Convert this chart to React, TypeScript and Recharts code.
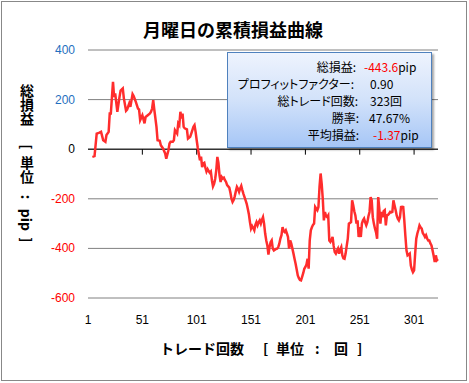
import React from 'react';
import { LineChart, Line, XAxis, YAxis, CartesianGrid, ReferenceLine } from 'recharts';

const trades: number[] = [
  5, 7, 9, 11, 13, 15, 17, 18, 20, 21, 22, 24, 25, 26, 28, 30, 31, 33, 34, 36, 37, 39, 40, 42, 43, 45, 47, 48, 49, 51, 53, 54, 56, 58, 59, 60, 61, 62, 64, 65, 67, 68, 70, 72, 73, 75, 76, 77, 79, 80, 81, 83, 84, 85, 86, 87, 88, 89, 90, 92, 93, 95, 96, 98, 99,
  100, 101, 102, 103, 104, 105, 106, 107, 108, 109, 110, 111, 112, 113, 114, 115, 116, 117, 118, 119, 120, 121, 122, 123, 124, 125, 126, 127, 128, 129, 130, 131, 132, 133, 134, 135, 136, 137, 138, 139, 140, 141, 142, 143, 144, 145, 146, 147, 148, 149, 150,
  151, 152, 153, 154, 155, 156, 157, 158, 159, 160, 161, 162, 163, 164, 165, 166, 167, 168, 169, 170, 171, 172, 173, 174, 175, 176, 177, 178, 179, 180, 181, 182, 183, 184, 185, 186, 187, 188, 189, 190, 191, 192, 193, 194, 195, 196, 197, 198, 199, 200,
  201, 202, 203, 204, 205, 206, 207, 208, 209, 210, 211, 212, 213, 214, 215, 216, 217, 218, 219, 220, 221, 222, 223, 224, 225, 226, 227, 228, 229, 230, 231, 232, 233, 234, 235, 236, 237, 238, 239, 240, 241, 242, 243, 244, 245, 246, 247, 248, 249, 250,
  251, 252, 253, 254, 255, 256, 257, 258, 259, 260, 261, 262, 263, 264, 265, 266, 267, 268, 269, 270, 271, 272, 273, 274, 275, 276, 277, 278, 279, 280, 281, 282, 283, 284, 285, 286, 287, 288, 289, 290, 291, 292, 293, 294, 295, 296, 297, 298, 299, 300,
  301, 302, 303, 304, 305, 306, 307, 308, 309, 310, 311, 312, 313, 314, 315, 316, 317, 318, 319, 320, 321, 322, 323,
];

const profits: number[] = [
  -31, -28, 63, 66, 70, 36, 30, 57, 70, 144, 144, 272, 211, 225, 151, 211, 236, 245, 205, 155, 160, 185, 171, 222, 214, 191, 164, 160, 117, 137, 104, 130, 137, 144, 151, 164, 198, 160, 90, 36, 34, 16, 3, -17, -38, -4, 23, 30, 30, 36, 77, 63, 104, 97, 151, 124, 144, 90, 84, 80, 43, 50, 63, 90, 97,
  70, 36, 5, -20, -45, -30, -72, -58, -55, -75, -90, -80, -88, -95, -90, -125, -150, -140, -120, -85, -31, -55, -105, -132, -112, -118, -115, -125, -132, -145, -150, -155, -175, -200, -213, -205, -190, -170, -152, -160, -172, -158, -148, -165, -180, -193, -206, -220, -240, -262, -294,
  -320, -310, -318, -327, -305, -294, -307, -295, -287, -300, -285, -274, -300, -340, -368, -388, -425, -395, -375, -368, -401, -408, -405, -402, -401, -395, -381, -360, -347, -314, -330, -334, -327, -340, -354, -401, -368, -381, -400, -420, -442, -462, -485, -509, -520, -527, -529, -515, -500, -482,
  -475, -465, -442, -482, -368, -327, -315, -305, -300, -233, -240, -246, -233, -152, -98, -140, -200, -287, -253, -270, -274, -267, -368, -374, -365, -354, -390, -415, -421, -410, -401, -421, -405, -395, -428, -440, -442, -421, -390, -361, -300, -297, -294, -206, -226, -250, -267, -300, -287, -354,
  -314, -354, -300, -287, -280, -295, -307, -294, -270, -253, -193, -206, -274, -300, -320, -335, -361, -193, -240, -300, -253, -274, -250, -246, -307, -267, -265, -260, -253, -255, -253, -206, -226, -245, -267, -280, -287, -274, -233, -232, -233, -287, -350, -408, -428, -425, -421, -469, -485, -496,
  -489, -420, -361, -340, -325, -307, -315, -320, -338, -345, -354, -347, -360, -368, -368, -380, -388, -408, -430, -455, -428, -448, -443.6,
];

const xTicks: number[] = [1, 51, 101, 151, 201, 251, 301];
const yTicks: number[] = [-600, -400, -200, 0, 200, 400];

const title = '月曜日の累積損益曲線';
const yLabelParts: string[] = ['総損益', '[', '単位', ':', 'pip', ']'];
const xLabelParts: string[] = ['トレード回数', '[', '単位', ':', '回', ']'];

const statLabels: string[] = ['総損益:', 'プロフィットファクター:', '総トレード回数:', '勝率:', '平均損益:'];
const statValues: string[] = ['-443.6', '0.90', '323回', '47.67%', '-1.37'];
const statUnits: string[] = ['pip', '', '', '', 'pip'];

const data = trades.map((t, i) => ({ t, v: profits[i] }));

const jp = '"Noto Sans CJK JP", "Noto Sans", sans-serif';
const num = '"Liberation Sans", Arial, sans-serif';

const YTick = (props: any) => {
  const { x, y, payload } = props;
  const v = payload.value;
  const fill = v > 0 ? '#1F6FC0' : v < 0 ? '#FF0000' : '#000000';
  return (
    <text x={x} y={y} dy={4} textAnchor="end" fill={fill} fontSize={12} fontFamily={num}>
      {v}
    </text>
  );
};

const labelRight = [128, 126, 130, 131, 131];
const valueLeft = [136, 142, 142, 141, 145];
const rowTop = [7, 24, 41, 58, 75];

// centers (y) of the vertical y-label pieces, starts (x) of the x-label pieces
const yLabelPos = [105, 147, 170, 197, 220, 240];
const xLabelPos = [160, 263, 276, 315, 334, 357];

export default function App() {
  return (
    <div style={{ position: 'absolute', left: 0, top: 0, width: 469, height: 383, background: '#ffffff', overflow: 'hidden' }}>
      <div style={{ position: 'absolute', left: 1, top: 1, width: 464, height: 378, border: '1px solid #888888' }} />
      <div style={{ position: 'absolute', left: 0, top: 0 }}>
        <LineChart width={469} height={383} data={data} margin={{ top: 50, right: 31, left: 28, bottom: 65 }}>
          <CartesianGrid vertical={false} stroke="#808080" strokeWidth={1} />
          <XAxis
            dataKey="t"
            type="number"
            domain={[1, 323]}
            ticks={xTicks}
            interval={0}
            height={20}
            axisLine={false}
            tickLine={false}
            tickSize={0}
            tickMargin={17}
            tick={{ fill: '#000', fontSize: 12, fontFamily: num }}
          />
          <YAxis
            domain={[-600, 400]}
            ticks={yTicks}
            width={60}
            axisLine={false}
            tickLine={false}
            tickSize={0}
            tickMargin={13}
            tick={<YTick />}
          />
          <ReferenceLine y={0} stroke="#000000" strokeWidth={1} />
          {xTicks.slice(1).map((t) => (
            <ReferenceLine
              key={t}
              segment={[{ x: t, y: 0 }, { x: t, y: -22 }]}
              stroke="#000000"
              strokeWidth={1}
            />
          ))}
          <Line
            dataKey="v"
            type="linear"
            stroke="#FF2D2D"
            strokeWidth={2.5}
            dot={false}
            isAnimationActive={false}
          />
        </LineChart>
      </div>
      <svg width={469} height={383} style={{ position: 'absolute', left: 0, top: 0, pointerEvents: 'none' }}>
        <text x={233} y={37} textAnchor="middle" fontSize={18} fontWeight="bold" fontFamily={jp} fill="#000">
          {title}
        </text>
        {yLabelParts.map((p, i) => (
          <text
            key={i}
            x={27}
            y={yLabelPos[i]}
            textAnchor="middle"
            fontSize={14}
            fontWeight="bold"
            fontFamily={jp}
            fill="#000"
            style={{ writingMode: 'vertical-rl' }}
          >
            {p}
          </text>
        ))}
        {xLabelParts.map((p, i) => (
          <text key={i} x={xLabelPos[i]} y={354} textAnchor="start" fontSize={14} fontWeight="bold" fontFamily={jp} fill="#000">
            {p}
          </text>
        ))}
      </svg>
      <div
        style={{
          position: 'absolute',
          left: 227,
          top: 52,
          width: 203,
          height: 94,
          border: '1px solid #4F81BD',
          background: 'linear-gradient(to bottom, #EEF3FD 0%, #D2E2FA 50%, #A6C6F6 100%)',
          boxShadow: '2px 2px 2px rgba(0,0,0,0.35)',
          fontFamily: jp,
          fontSize: 12,
          fontFeatureSettings: '"palt"',
          color: '#000',
        }}
      >
        {statLabels.map((lab, i) => (
          <React.Fragment key={lab}>
            <span style={{ position: 'absolute', right: 203 - labelRight[i], top: rowTop[i], whiteSpace: 'nowrap', lineHeight: '14px' }}>
              {lab}
            </span>
            <span style={{ position: 'absolute', left: valueLeft[i], top: rowTop[i], whiteSpace: 'nowrap', lineHeight: '14px' }}>
              <span style={{ color: statValues[i].startsWith('-') ? '#FF0000' : '#000' }}>{statValues[i]}</span>
              {statUnits[i]}
            </span>
          </React.Fragment>
        ))}
      </div>
    </div>
  );
}
